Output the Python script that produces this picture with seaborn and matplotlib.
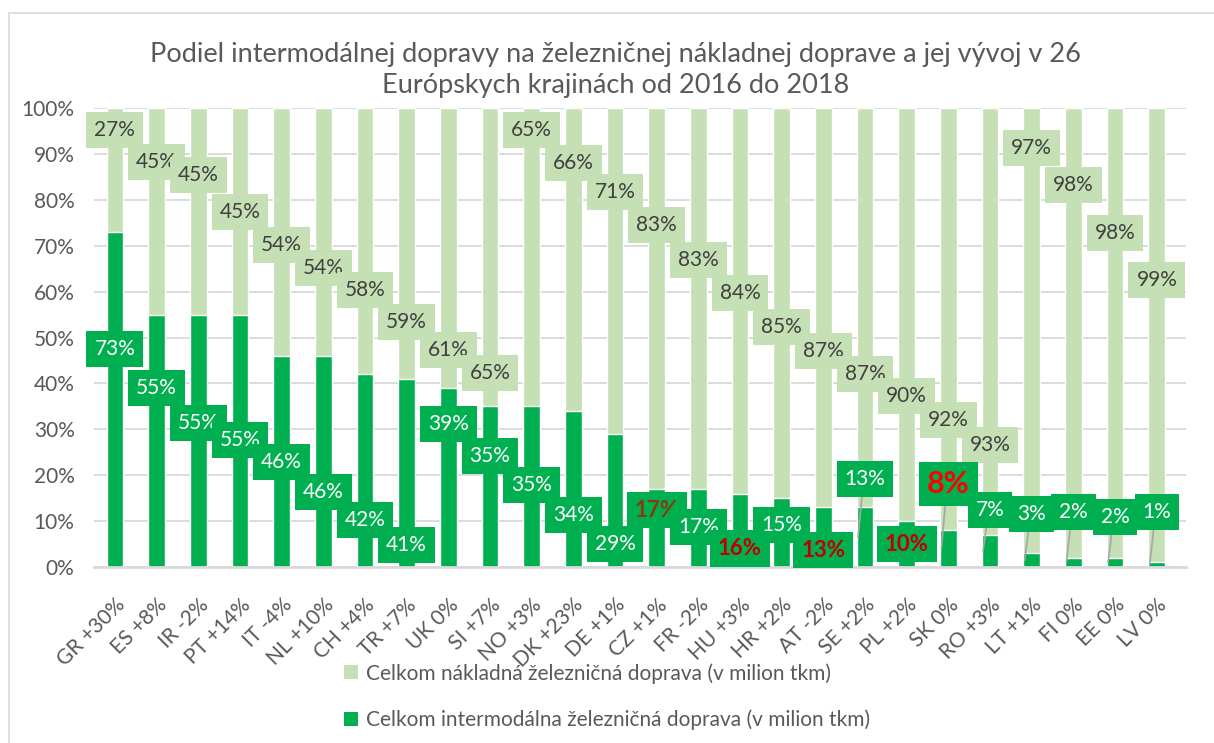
import matplotlib
matplotlib.use("Agg")
import matplotlib.pyplot as plt
from matplotlib.patches import Patch, Rectangle
import seaborn as sns
import pandas as pd

# ---- data ----
countries = ["GR +30%", "ES +8%", "IR -2%", "PT +14%", "IT -4%", "NL +10%", "CH +4%",
             "TR +7%", "UK 0%", "SI +7%", "NO +3%", "DK +23%", "DE +1%", "CZ +1%",
             "FR -2%", "HU +3%", "HR +2%", "AT -2%", "SE +2%", "PL +2%", "SK 0%",
             "RO +3%", "LT +1%", "FI 0%", "EE 0%", "LV 0%"]
intermodal_share = [73, 55, 55, 55, 46, 46, 42, 41, 39, 35, 35, 34, 29, 17,
                    17, 16, 15, 13, 13, 10, 8, 7, 3, 2, 2, 1]
total_share = [100] * len(countries)
rest_share = [100 - v for v in intermodal_share]

series_total = "Celkom nákladná železničná doprava (v milion tkm)"
series_inter = "Celkom intermodálna železničná doprava (v milion tkm)"
title = ("Podiel intermodálnej dopravy na železničnej nákladnej doprave a jej vývoj v 26\n"
         "Európskych krajinách od 2016 do 2018")

# ---- label layout (manually placed callouts, in axis % units) ----
light_label_y = [95.2, 88.2, 85.4, 77.3, 70.2, 65.1, 60.3, 53.4, 47.3, 42.3, 95.2, 88.0,
                 81.7, 74.5, 66.9, 59.7, 52.3, 47.1, 42.0, 37.3, 32.0, 26.6, 91.3, 83.2,
                 72.8, 62.5]
dark_label_y = [47.5, 39.0, 31.4, 27.7, 22.9, 16.3, 10.2, 4.8, 31.2, 24.2, 17.9, 11.3,
                5.0, 12.4, 8.7, 4.1, 9.2, 3.7, 19.2, 5.0, 18.1, 12.4, 11.5, 12.0, 10.9, 12.0]
leader_idx = [18, 20, 21, 22, 23, 24, 25]
special_style = {13: ("#843C0C", "bold", 16), 15: ("#C00000", "bold", 16),
                 17: ("#C00000", "bold", 16), 19: ("#C00000", "bold", 16),
                 20: ("#FF0000", "bold", 22)}

LIGHT = "#C5E0B4"
DARK = "#00B050"
GRAY = "#595959"

sns.set_style("white")
plt.rcParams["font.family"] = ["Lato", "DejaVu Sans"]

df = pd.DataFrame({"country": countries, "total": total_share, "inter": intermodal_share})

fig = plt.figure(figsize=(12.14, 7.43), dpi=100)
ax = fig.add_axes([94 / 1214, 1 - 567 / 743, 1092 / 1214, (567 - 108) / 743])

sns.barplot(data=df, x="country", y="total", color=LIGHT, width=0.4, ax=ax,
            saturation=1, zorder=2)
sns.barplot(data=df, x="country", y="inter", color=DARK, width=0.4, ax=ax,
            saturation=1, zorder=2)

ax.set_ylim(0, 100)
ax.set_xlim(-0.5, 25.7)
ax.set_yticks(range(0, 101, 10))
ax.set_yticklabels([f"{v}%" for v in range(0, 101, 10)])
ax.yaxis.grid(True, color="#D9D9D9", linewidth=1.3, zorder=0)
ax.set_axisbelow(True)
for s in ["top", "right", "left"]:
    ax.spines[s].set_visible(False)
ax.spines["bottom"].set_color("#D9D9D9")
ax.spines["bottom"].set_linewidth(2)
ax.set_xlabel("")
ax.set_ylabel("")
ax.tick_params(axis="y", length=0, pad=14, labelsize=15, labelcolor=GRAY)
ax.tick_params(axis="x", length=0, pad=20, labelsize=15, labelcolor=GRAY)
plt.setp(ax.get_xticklabels(), rotation=45, ha="right", rotation_mode="anchor")

# light labels
for i, (v, y) in enumerate(zip(rest_share, light_label_y)):
    ax.text(i, y, f"{v}%", ha="center", va="center", fontsize=15, color="#404040",
            zorder=5, bbox=dict(boxstyle="square,pad=0.38", fc=LIGHT, ec="none"))

# leader lines
for i in leader_idx:
    ax.plot([i - 0.03, i - 0.17], [dark_label_y[i], intermodal_share[i] / 2],
            color="#A6A6A6", linewidth=1.2, zorder=3)

# dark labels
for i, (v, y) in enumerate(zip(intermodal_share, dark_label_y)):
    col, wt, fs = special_style.get(i, ("white", "normal", 15))
    pad = 0.38 * 15 / fs
    ax.text(i, y, f"{v}%", ha="center", va="center", fontsize=fs, color=col,
            fontweight=wt, zorder=6,
            bbox=dict(boxstyle=f"square,pad={pad:.3f}", fc=DARK, ec="none"))

fig.text(0.507, 0.906, title, ha="center", va="center", fontsize=19.5, color=GRAY,
         linespacing=1.3)

handles = [Patch(facecolor=LIGHT, edgecolor="none", label=series_total),
           Patch(facecolor=DARK, edgecolor="none", label=series_inter)]
leg = fig.legend(handles=handles, loc="upper center", bbox_to_anchor=(0.5, 0.133),
                 frameon=False, fontsize=15, handlelength=0.65,
                 handleheight=0.65, handletextpad=0.4, labelspacing=1.25)
for t in leg.get_texts():
    t.set_color(GRAY)

fig.patches.append(Rectangle((9 / 1214, -0.1), 1.2, 1 - 13 / 743 + 0.1,
                             transform=fig.transFigure, fill=False,
                             edgecolor="#D9D9D9", linewidth=1.2, zorder=-1))

fig.savefig("out.png", dpi=100)
